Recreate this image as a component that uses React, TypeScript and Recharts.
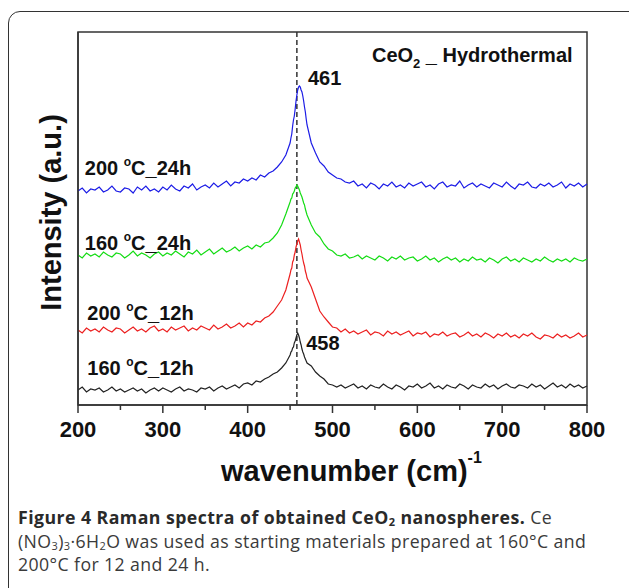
import React from "react";
import {
  LineChart,
  Line,
  XAxis,
  YAxis,
  ReferenceLine,
  ReferenceArea,
  ReferenceDot,
} from "recharts";

// wavenumber grid (cm-1), finer around the F2g band
const wavenumber = [
  200, 205, 210, 215, 220, 225, 230, 235, 240, 245,
  250, 255, 260, 265, 270, 275, 280, 285, 290, 295,
  300, 305, 310, 315, 320, 325, 330, 335, 340, 345,
  350, 355, 360, 365, 370, 375, 380, 385, 390, 395,
  400, 405, 410, 415, 420, 425, 430, 435, 440, 445,
  450, 451, 452, 453, 454, 455, 456, 457, 458, 459, 460,
  461, 462, 463, 464, 465, 466, 467, 468, 469, 470,
  475, 480, 485, 490, 495, 500, 505, 510, 515, 520,
  525, 530, 535, 540, 545, 550, 555, 560, 565, 570,
  575, 580, 585, 590, 595, 600, 605, 610, 615, 620,
  625, 630, 635, 640, 645, 650, 655, 660, 665, 670,
  675, 680, 685, 690, 695, 700, 705, 710, 715, 720,
  725, 730, 735, 740, 745, 750, 755, 760, 765, 770,
  775, 780, 785, 790, 795, 800,
];

// stacked (offset) intensities, a.u.
const s200_24h = [
  214, 217, 212, 216, 215, 218, 213, 215, 219, 214,
  213, 217, 216, 212, 218, 215, 219, 214, 216, 213,
  218, 215, 220, 216, 214, 219, 217, 221, 215, 218,
  220, 217, 222, 218, 221, 224, 219, 223, 222, 226,
  224, 227, 225, 230, 228, 232, 234, 238, 243, 250,
  262, 267, 271, 279, 285, 289, 296, 304, 310, 315, 318,
  319, 318, 315, 313, 309, 304, 298, 293, 286, 280,
  262, 252, 243, 239, 233, 230, 227, 226, 223, 222,
  224, 219, 221, 217, 222, 220, 216, 221, 219, 223,
  218, 220, 217, 222, 219, 221, 223, 218, 220, 216,
  221, 223, 218, 220, 219, 224, 217, 220, 222, 218,
  221, 219, 217, 222, 220, 218, 223, 219, 216, 221,
  220, 223, 218, 217, 221, 219, 222, 218, 220, 223,
  217, 221, 219, 222, 218, 221,
];

const s160_24h = [
  150, 147, 152, 149, 151, 148, 153, 150, 148, 152,
  151, 147, 150, 154, 149, 152, 150, 147, 151, 153,
  149, 152, 150, 154, 151, 148, 153, 151, 155, 150,
  153, 156, 151, 154, 157, 153, 155, 158, 154, 157,
  159, 156, 160, 158, 162, 163, 167, 172, 180, 191,
  203, 206, 207, 211, 212, 214, 217, 218, 220, 219, 217,
  215, 212, 210, 208, 205, 202, 200, 196, 193, 190,
  180, 172, 168, 161, 156, 154, 150, 149, 151, 147,
  148, 150, 146, 149, 147, 145, 149, 147, 144, 148,
  146, 149, 145, 147, 148, 144, 146, 149, 145, 147,
  143, 146, 148, 145, 147, 143, 146, 144, 148, 145,
  146, 143, 147, 145, 142, 146, 148, 144, 146, 143,
  147, 145, 143, 146, 144, 148, 145, 143, 146, 144,
  146, 143, 147, 145, 144, 146,
];

const s200_12h = [
  75, 72, 77, 74, 76, 73, 78, 75, 73, 77,
  76, 72, 75, 78, 74, 76, 73, 77, 79, 74,
  76, 73, 78, 75, 77, 79, 74, 77, 75, 79,
  77, 75, 80, 76, 78, 81, 77, 79, 82, 78,
  82, 80, 84, 83, 87, 89, 93, 99, 105, 115,
  131, 135, 137, 143, 145, 150, 153, 158, 161, 164, 166,
  163, 160, 155, 151, 146, 142, 139, 134, 131, 127,
  118, 106, 94, 88, 83, 78, 77, 73, 76, 72,
  74, 71, 73, 75, 70, 73, 72, 69, 74, 71,
  73, 70, 72, 74, 69, 72, 71, 73, 68, 71,
  70, 73, 69, 71, 72, 68, 70, 73, 69, 71,
  68, 72, 70, 67, 71, 69, 72, 68, 70, 67,
  71, 69, 72, 68, 66, 70, 69, 67, 71, 68,
  70, 67, 69, 72, 68, 70,
];

const s160_12h = [
  15, 18, 13, 16, 15, 17, 13, 15, 18, 14,
  16, 13, 15, 17, 14, 16, 12, 15, 17, 14,
  17, 15, 13, 16, 18, 14, 16, 15, 13, 17,
  16, 18, 14, 17, 19, 16, 18, 20, 17, 21,
  22, 20, 24, 23, 26, 28, 31, 33, 37, 42,
  50, 53, 54, 57, 58, 62, 64, 67, 70, 72, 70,
  67, 63, 60, 56, 53, 51, 48, 46, 44, 42,
  39, 33, 29, 26, 21, 20, 18, 20, 17, 19,
  21, 17, 19, 16, 20, 18, 17, 21, 18, 16,
  20, 18, 15, 19, 18, 21, 17, 19, 22, 17,
  19, 16, 20, 18, 17, 21, 19, 16, 20, 18,
  17, 21, 18, 20, 16, 19, 21, 18, 17, 20,
  19, 17, 21, 18, 20, 16, 19, 22, 18, 20,
  17, 21, 18, 20, 17, 19,
];

const xTicks = [200, 250, 300, 350, 400, 450, 500, 550, 600, 650, 700, 750, 800];

const data = wavenumber.map((wn, i) => ({
  wn,
  a: s200_24h[i],
  b: s160_24h[i],
  c: s200_12h[i],
  d: s160_12h[i],
}));

const boldFont = "'Liberation Sans', Arial, sans-serif";

const renderTick = (props: any) => {
  const { x, y, payload } = props;
  const major = payload.value % 100 === 0;
  return (
    <g>
      <line x1={x} x2={x} y1={y} y2={y + (major ? 8 : 5)} stroke="#333" strokeWidth={1.5} />
      {major && (
        <text x={x} y={y + 32} textAnchor="middle" fontFamily={boldFont} fontWeight="bold" fontSize={22} fill="#111">
          {payload.value}
        </text>
      )}
    </g>
  );
};

const renderXLabel = (props: any) => {
  const vb = props.viewBox;
  return (
    <text x={vb.x + 143} y={vb.y + 76} fontFamily={boldFont} fontWeight="bold" fontSize={29} fill="#111">
      wavenumber (cm)
      <tspan dy={-18} fontSize={16}>-1</tspan>
    </text>
  );
};

const renderYLabel = (props: any) => {
  const vb = props.viewBox;
  const cx = vb.x + 51;
  const cy = vb.y + vb.height / 2 - 6;
  return (
    <text
      x={cx}
      y={cy}
      transform={`rotate(-90 ${cx} ${cy})`}
      textAnchor="middle"
      dominantBaseline="central"
      fontFamily={boldFont}
      fontWeight="bold"
      fontSize={29}
      fill="#111"
    >
      Intensity (a.u.)
    </text>
  );
};

// text anchored at a data point
const note = (key: string, x: number, y: number, content: React.ReactNode, anchor = "start") => (
  <ReferenceDot
    key={key}
    x={x}
    y={y}
    r={0}
    fill="none"
    stroke="none"
    ifOverflow="visible"
    label={(p: any) => (
      <text x={p.viewBox.x} y={p.viewBox.y} textAnchor={anchor} fontFamily={boldFont} fontWeight="bold" fontSize={20} fill="#111">
        {content}
      </text>
    )}
  />
);

const sampleLabel = (temp: string, time: string) => (
  <>
    {temp + " "}
    <tspan dy={-9} fontSize={12}>o</tspan>
    <tspan dy={9}>{"C_" + time}</tspan>
  </>
);

const sub = (t: string) => (
  <span style={{ fontSize: "0.62em", position: "relative", top: 2, lineHeight: 0 }}>{t}</span>
);

export default function App() {
  return (
    <div style={{ position: "absolute", left: 0, top: 0, width: 629, height: 588, background: "#fff", overflow: "hidden" }}>
      <div
        style={{
          position: "absolute",
          left: 8,
          top: 11,
          width: 640,
          height: 590,
          border: "1.5px solid #333",
          borderRadius: 12,
        }}
      />
      <div style={{ position: "absolute", left: 0, top: 0 }}>
        <LineChart width={629} height={500} data={data} margin={{ top: 32, right: 42, left: 0, bottom: 0 }}>
          <XAxis
            dataKey="wn"
            type="number"
            domain={[200, 800]}
            ticks={xTicks}
            interval={0}
            tickSize={0}
            tickMargin={0}
            tick={renderTick}
            axisLine={{ stroke: "#333", strokeWidth: 1.5 }}
            height={95}
            label={renderXLabel}
          />
          <YAxis
            type="number"
            domain={[0, 373]}
            width={78}
            tick={false}
            tickLine={false}
            axisLine={{ stroke: "#333", strokeWidth: 1.5 }}
            label={renderYLabel}
          />
          <ReferenceArea x1={200} x2={800} y1={0} y2={373} fill="none" stroke="#333" strokeWidth={1.5} />
          <ReferenceLine x={458} stroke="#333" strokeWidth={1.5} strokeDasharray="5 3" />
          <Line dataKey="a" stroke="#1c1ce6" strokeWidth={1.2} dot={false} isAnimationActive={false} />
          <Line dataKey="b" stroke="#14dc14" strokeWidth={1.2} dot={false} isAnimationActive={false} />
          <Line dataKey="c" stroke="#ec2020" strokeWidth={1.2} dot={false} isAnimationActive={false} />
          <Line dataKey="d" stroke="#222" strokeWidth={1.2} dot={false} isAnimationActive={false} />
          {note("t1", 208, 230, sampleLabel("200", "24h"))}
          {note("t2", 208, 155, sampleLabel("160", "24h"))}
          {note("t3", 211, 85, sampleLabel("200", "12h"))}
          {note("t4", 211, 30, sampleLabel("160", "12h"))}
          {note("p1", 471, 320, "461")}
          {note("p2", 469, 55, "458")}
          {note(
            "title",
            783,
            343,
            <>
              CeO<tspan dy={6} fontSize={13}>2</tspan>
              <tspan dy={-6}> _ Hydrothermal</tspan>
            </>,
            "end"
          )}
        </LineChart>
      </div>
      <div
        style={{
          position: "absolute",
          left: 18,
          top: 506,
          fontFamily: "'Open Sans', sans-serif",
          fontSize: 17.7,
          lineHeight: "23.5px",
          color: "#3a3a3a",
          whiteSpace: "nowrap",
          letterSpacing: 0.4,
        }}
      >
        <div>
          <b style={{ color: "#2a2a2a", letterSpacing: 0.45 }}>
            Figure 4 Raman spectra of obtained CeO{sub("2")} nanospheres.
          </b>{" "}
          Ce
        </div>
        <div>
          (NO{sub("3")}){sub("3")}·6H{sub("2")}O was used as starting materials prepared at 160°C and
        </div>
        <div>200°C for 12 and 24 h.</div>
      </div>
    </div>
  );
}
